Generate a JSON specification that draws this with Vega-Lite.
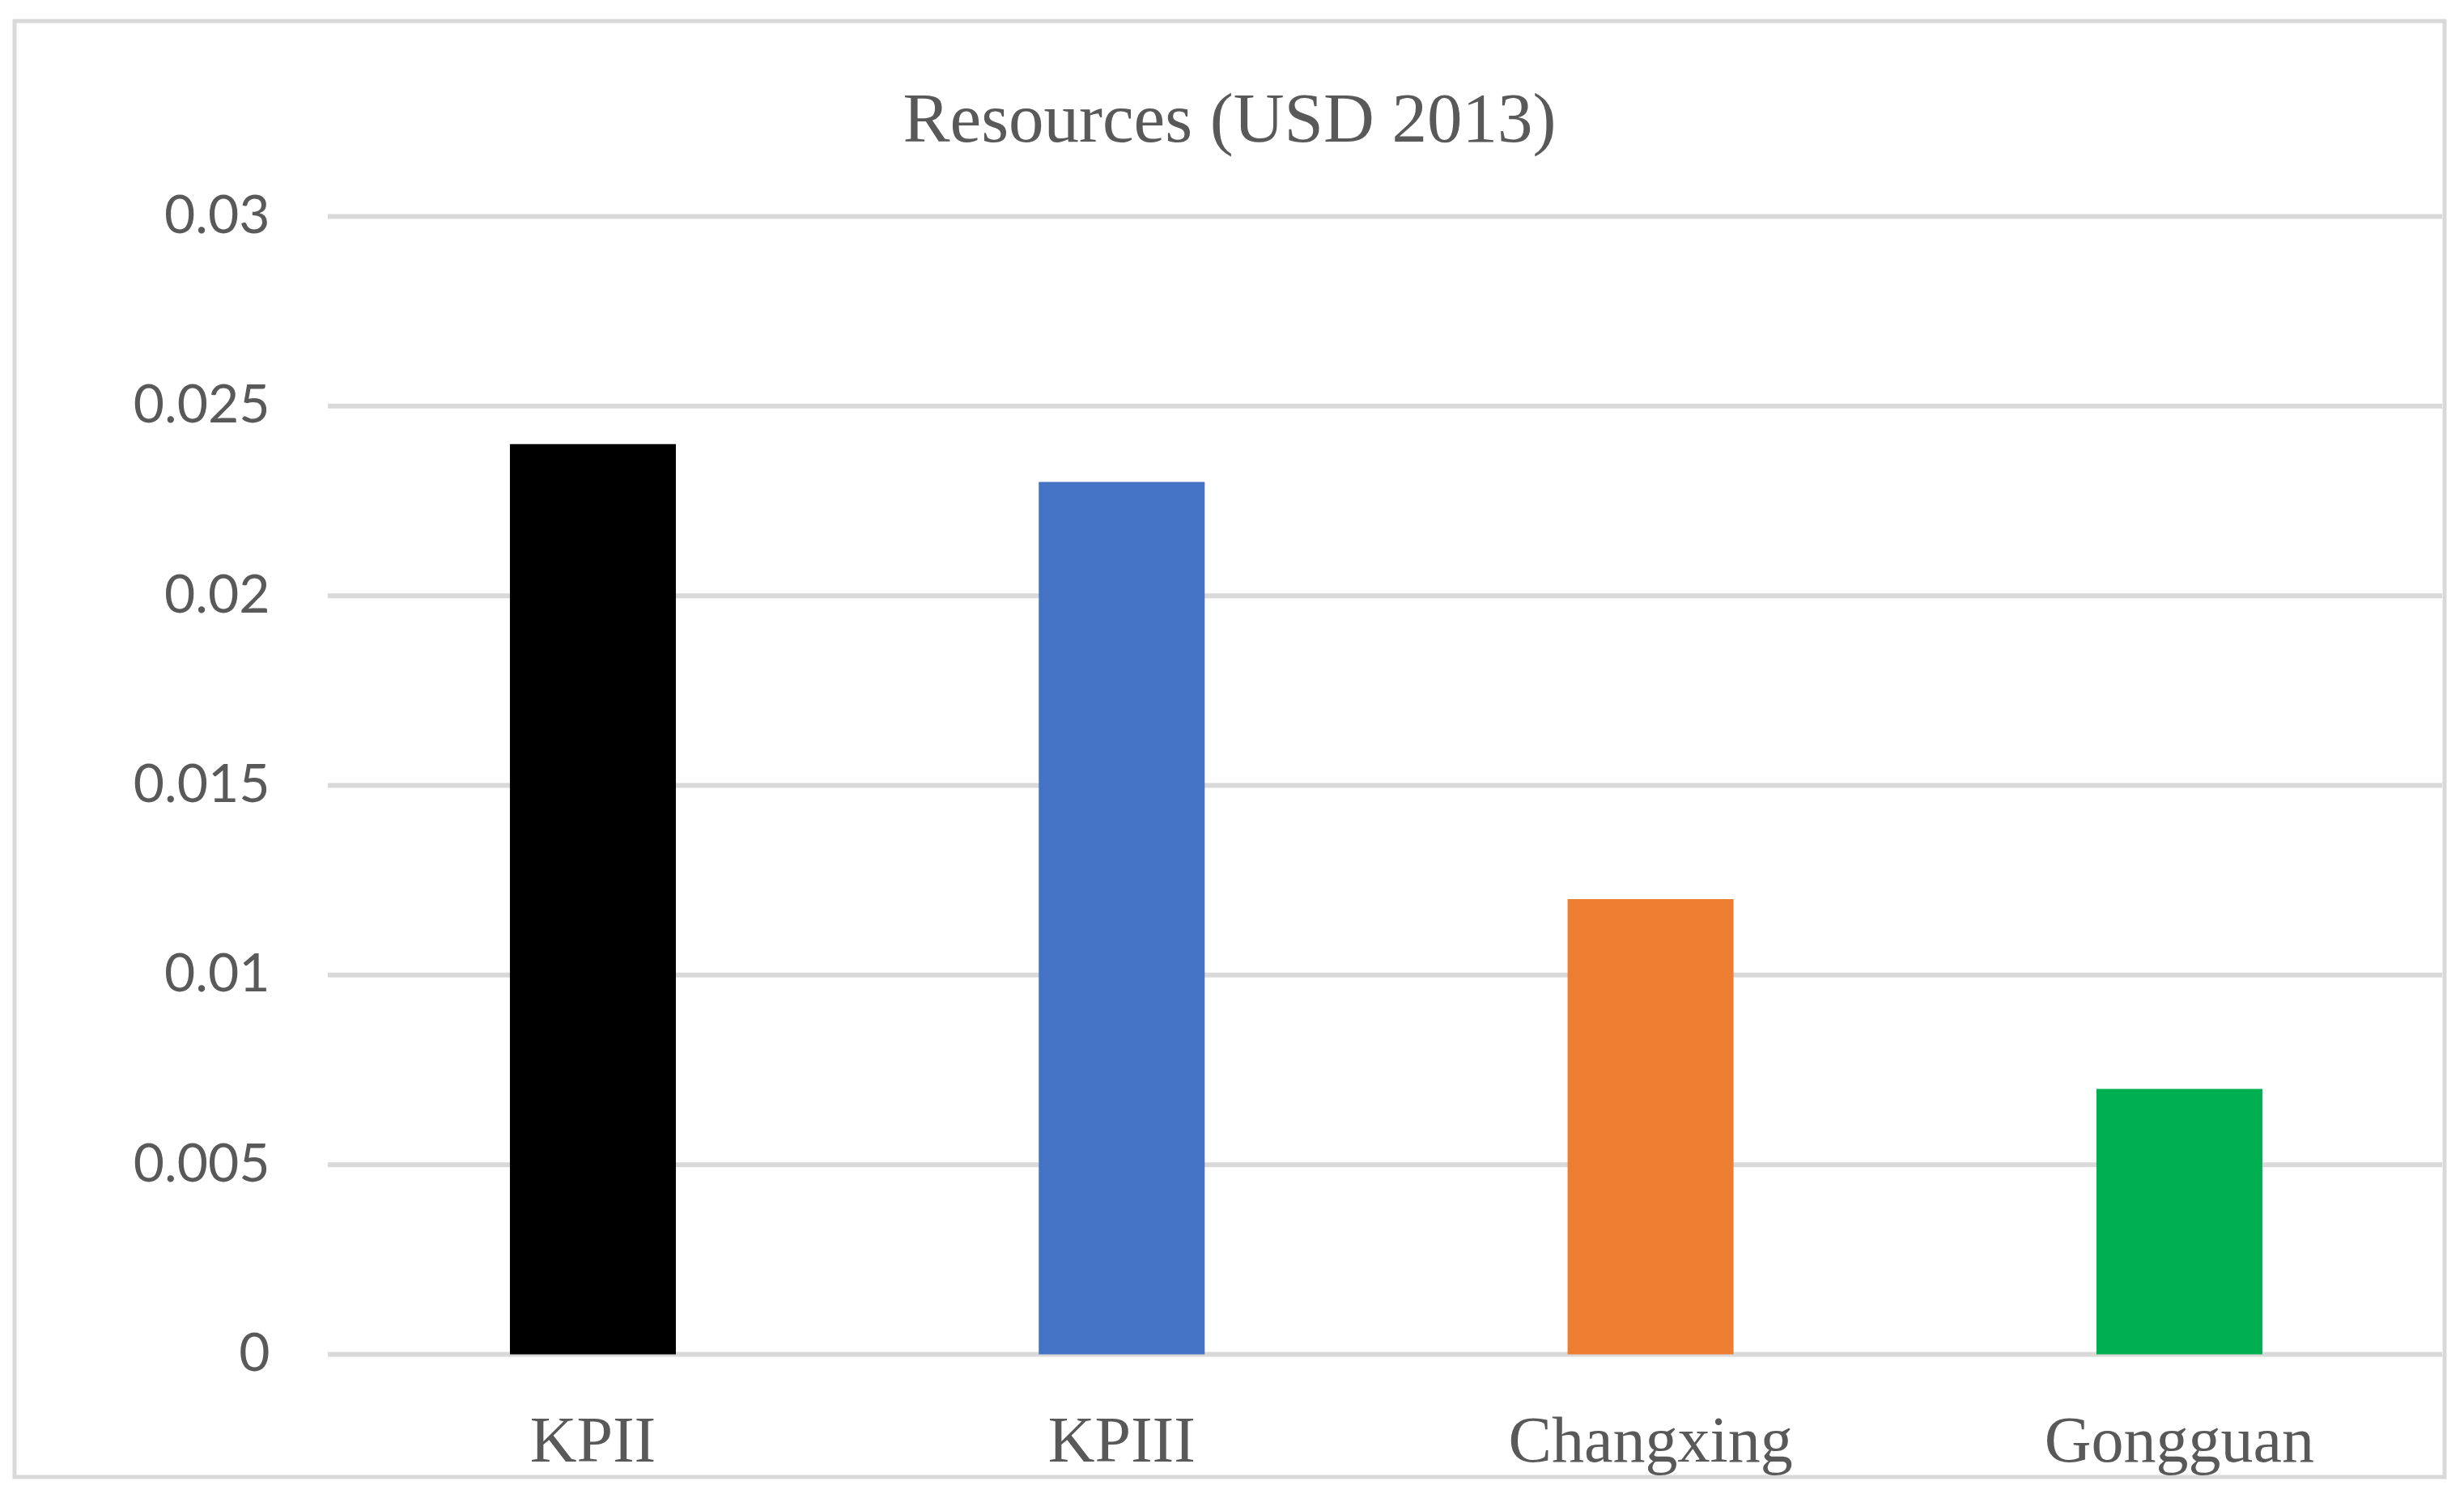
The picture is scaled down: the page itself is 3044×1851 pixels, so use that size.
{
  "$schema": "https://vega.github.io/schema/vega-lite/v6.json",
  "width": 3002,
  "height": 1799,
  "autosize": {"type": "none"},
  "padding": {"left": 18, "top": 26, "right": 22, "bottom": 24},
  "background": "white",
  "title": {
    "text": "Resources (USD 2013)",
    "font": "Liberation Serif",
    "fontSize": 87,
    "fontWeight": "normal",
    "color": "#595959",
    "anchor": "middle",
    "frame": "group",
    "baseline": "alphabetic",
    "offset": -235.5
  },
  "datasets": {
    "bars": [
      {"site": "KPII", "value": 0.024},
      {"site": "KPIII", "value": 0.023},
      {"site": "Changxing", "value": 0.012},
      {"site": "Gongguan", "value": 0.007}
    ],
    "grid": [
      {"level": 0},
      {"level": 0.005},
      {"level": 0.01},
      {"level": 0.015},
      {"level": 0.02},
      {"level": 0.025},
      {"level": 0.03}
    ]
  },
  "resolve": {"scale": {"x": "shared", "y": "shared"}},
  "layer": [
    {
      "data": {"name": "grid"},
      "mark": {"type": "rule", "color": "#d9d9d9", "strokeWidth": 6},
      "encoding": {
        "y": {
          "field": "level",
          "type": "quantitative",
          "scale": {"domain": [-0.0032325, 0.0351529], "nice": false, "zero": false}
        },
        "x": {
          "datum": "KPII",
          "type": "nominal",
          "bandPosition": -1.0976,
          "scale": {
            "type": "band",
            "domain": ["KPII", "KPIII", "Changxing", "Gongguan"],
            "paddingInner": 0.6862,
            "paddingOuter": 0.6406,
            "align": 0.7311,
            "round": false
          }
        },
        "x2": {"datum": "Gongguan", "bandPosition": 2.083}
      }
    },
    {
      "data": {"name": "bars"},
      "mark": {"type": "bar"},
      "encoding": {
        "x": {
          "field": "site",
          "type": "nominal",
          "sort": ["KPII", "KPIII", "Changxing", "Gongguan"],
          "axis": {
            "title": null,
            "orient": "bottom",
            "offset": -151.5,
            "domain": false,
            "ticks": false,
            "tickSize": 0,
            "labelAngle": 0,
            "labelAlign": "center",
            "labelLimit": 2000,
            "labelOverlap": false,
            "labelFont": "Liberation Serif",
            "labelFontSize": 80,
            "labelColor": "#595959",
            "labelBaseline": "alphabetic",
            "labelPadding": 131.5,
            "grid": false
          }
        },
        "y": {
          "field": "value",
          "type": "quantitative",
          "axis": {
            "title": null,
            "orient": "left",
            "offset": -387,
            "values": [0, 0.005, 0.01, 0.015, 0.02, 0.025, 0.03],
            "format": "~g",
            "domain": false,
            "ticks": false,
            "tickSize": 0,
            "grid": false,
            "labelFont": "Lato",
            "labelFontSize": 66,
            "labelColor": "#595959",
            "labelAlign": "right",
            "labelBaseline": "middle",
            "labelPadding": 72
          }
        },
        "y2": {"datum": 0},
        "color": {
          "field": "site",
          "type": "nominal",
          "scale": {
            "domain": ["KPII", "KPIII", "Changxing", "Gongguan"],
            "range": ["#000000", "#4472C4", "#ED7D31", "#00B050"]
          },
          "legend": null
        }
      }
    }
  ],
  "config": {
    "view": {"stroke": "#d9d9d9", "strokeWidth": 5, "fill": "white"}
  }
}
